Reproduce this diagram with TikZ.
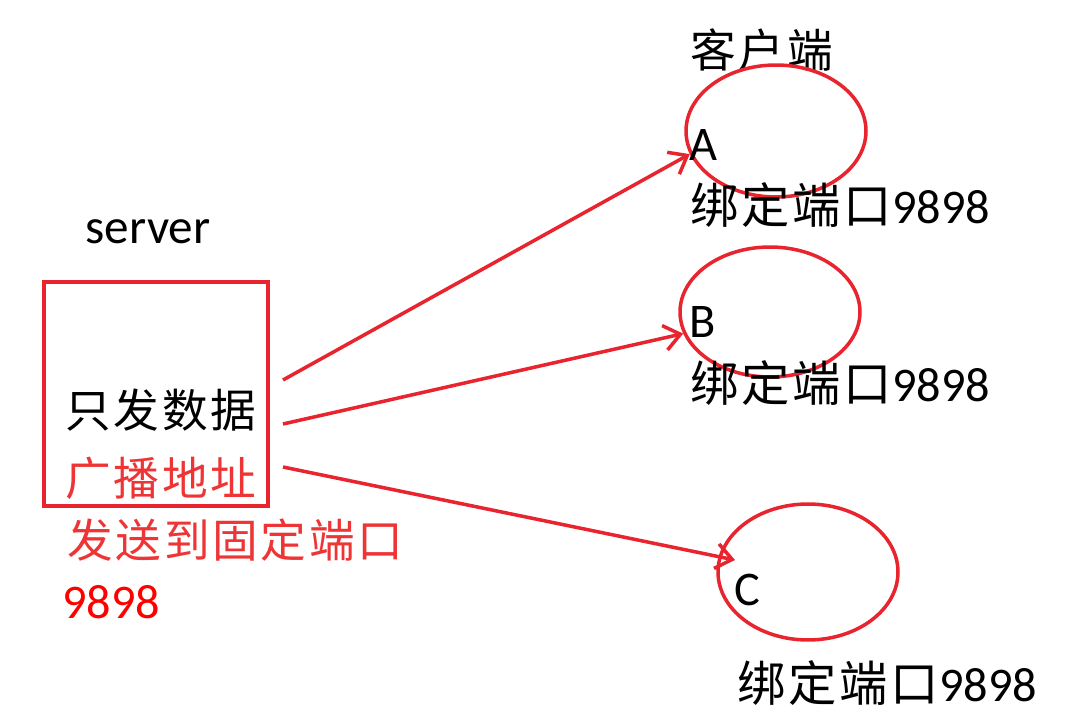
\documentclass[tikz,border=0pt]{standalone}
\usepackage{fontspec}
\setmainfont{Carlito}
\newfontfamily\cjk[LetterSpace=6]{Noto Sans CJK SC}
\usetikzlibrary{shapes.geometric,arrows.meta}
\definecolor{linered}{RGB}{232,36,46}
\definecolor{textred}{RGB}{238,52,52}
\definecolor{numred}{RGB}{255,0,0}
\tikzset{
  client/.style={ellipse,draw=linered,line width=2pt,minimum width=3.6cm,inner sep=0pt},
  srvbox/.style={draw=linered,line width=2pt,minimum width=4.48cm,minimum height=4.48cm,inner sep=0pt},
  txt/.style={inner sep=0pt,anchor=west,font=\fontsize{27.5}{30}\selectfont},
  cntxt/.style={inner sep=0pt,anchor=west,font=\fontsize{26}{30}\selectfont\cjk},
  send/.style={draw=linered,line width=2pt,-{Straight Barb[length=0.32cm,width=0.5cm,line width=2pt]}}
}
\begin{document}
\begin{tikzpicture}[x=0.02cm,y=-0.02cm]
\useasboundingbox (0,0) rectangle (1065,726);
%%
  \node (server) at (148,232) [inner sep=0pt,font=\fontsize{28}{30}\selectfont] {server};
  \node (srv_box) at (156,394) [srvbox] {};
  \node (srv_data) at (65,410) [cntxt] {只发数据};
  \node (srv_addr) at (65,478) [cntxt,text=textred] {广播地址};
  \node (srv_port) at (67,540) [cntxt,text=textred] {发送到固定端口};
  \node (srv_num) at (62,602) [txt,text=numred] {9898};

  \node (clients) at (690,50) [cntxt] {客户端};
  \node (ell_a) at (776,131) [client,minimum height=2.64cm] {};
  \node (ell_b) at (770,312) [client,minimum height=2.6cm] {};
  \node (ell_c) at (808,572) [client,minimum height=2.72cm] {};
  \node (name_a) at (689,145) [txt] {A};
  \node (name_b) at (689,322) [txt] {B};
  \node (name_c) at (734,590) [txt] {C};
  \node (port_a) at (690,205) [txt] {{\cjk 绑定端口}9898};
  \node (port_b) at (690,383) [txt] {{\cjk 绑定端口}9898};
  \node (port_c) at (737,683) [txt] {{\cjk 绑定端口}9898};

  \coordinate (out_a) at (283,380);
  \coordinate (out_b) at (283,424);
  \coordinate (out_c) at (283,467);
  \coordinate (tip_c) at (735,560);

  \draw [send] (out_a) -- (ell_a.195);
  \draw [send] (out_b) -- (ell_b.194);
  \draw [send] (out_c) -- (tip_c);
%
\end{tikzpicture}
\end{document}
